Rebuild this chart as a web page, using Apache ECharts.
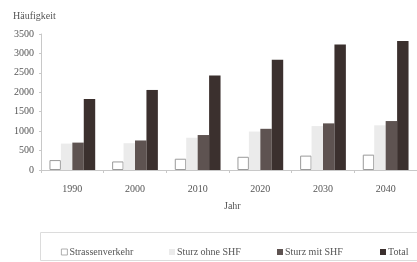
<!DOCTYPE html>
<html><head><meta charset="utf-8">
<script src="https://cdn.jsdelivr.net/npm/echarts@6/dist/echarts.min.js"></script>
<style>html,body{margin:0;padding:0;background:#fff}#c{width:417px;height:262px}</style>
</head><body><div id="c"></div>
<script>
var categories = ['1990','2000','2010','2020','2030','2040'];
var seriesNames = ['Strassenverkehr','Sturz ohne SHF','Sturz mit SHF','Total'];
var strassenverkehr = [255, 220, 290, 340, 370, 395];
var sturzOhneSHF = [680, 690, 830, 990, 1130, 1150];
var sturzMitSHF = [705, 760, 900, 1060, 1200, 1260];
var total = [1830, 2060, 2430, 2840, 3230, 3320];
var yTicks = [0, 500, 1000, 1500, 2000, 2500, 3000, 3500];

var font = '"Liberation Serif", "DejaVu Serif", serif';
var txt = '#555';
var chart = echarts.init(document.getElementById('c'), null, {renderer:'canvas'});
var styles = [
  {color:'#ffffff', borderColor:'#9a9a9a', borderWidth:1},
  {color:'#ebebeb'},
  {color:'#5e5351'},
  {color:'#3b302e'}
];
var datas = [strassenverkehr, sturzOhneSHF, sturzMitSHF, total];
var legendX = [56, 164, 272, 375];
chart.setOption({
  animation:false,
  grid:{left:41, top:34, bottom:92, width:378, containLabel:false},
  xAxis:{type:'category', data:categories,
    axisLine:{lineStyle:{color:'#c8c8c8'}},
    axisTick:{show:true, length:3, lineStyle:{color:'#c8c8c8'}},
    axisLabel:{fontFamily:font, fontSize:10, color:txt, margin:14}},
  yAxis:{type:'value', min:yTicks[0], max:yTicks[yTicks.length-1], interval:500,
    splitLine:{show:false},
    axisLine:{show:true, lineStyle:{color:'#c8c8c8'}},
    axisTick:{show:true, length:2, lineStyle:{color:'#c8c8c8'}},
    axisLabel:{fontFamily:font, fontSize:10, color:txt, margin:7,
      formatter:function(v){return String(v);}}},
  legend: seriesNames.map(function(n,i){return {
    data:[n], left:legendX[i], top:242, itemWidth:6, itemHeight:6, itemGap:2,
    icon:'rect', itemStyle:{borderWidth: i===0 ? 0.8 : 0},
    textStyle:{fontFamily:font, fontSize:10, color:txt, padding:[0,0,0,-3]}};}),
  graphic:[
    {type:'text', left:13, top:11, style:{text:'Häufigkeit', font:'10px '+font, fill:txt}},
    {type:'text', left:224, top:201, style:{text:'Jahr', font:'10px '+font, fill:txt}},
    {type:'rect', shape:{x:40.5, y:232.5, width:400, height:28}, style:{fill:'none', stroke:'#dcdcdc', lineWidth:1}}
  ],
  series: seriesNames.map(function(n,i){return {
    name:n, type:'bar', data:datas[i], barGap:'0%', barCategoryGap:'27%',
    itemStyle:styles[i]};})
});
</script></body></html>
